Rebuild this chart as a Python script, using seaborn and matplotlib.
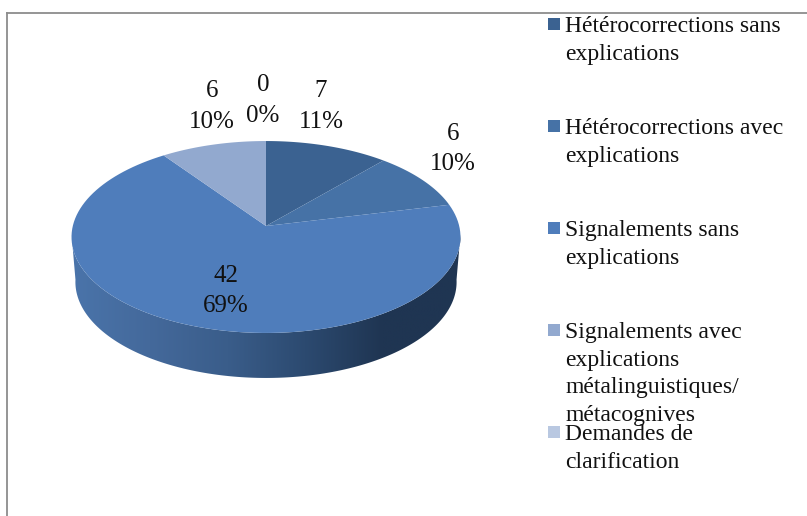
import numpy as np
import matplotlib
matplotlib.use("Agg")
import matplotlib.pyplot as plt
import seaborn as sns
from matplotlib.path import Path
from matplotlib.patches import PathPatch
from matplotlib.colors import LinearSegmentedColormap

# data
categories = ["Hétérocorrections sans\nexplications",
              "Hétérocorrections avec\nexplications",
              "Signalements sans\nexplications",
              "Signalements avec\nexplications\nmétalinguistiques/\nmétacognives",
              "Demandes de\nclarification"]
values = [7, 6, 42, 6, 0]
percents = ["11%", "10%", "69%", "10%", "0%"]
colors = ["#3b6291", "#4672a6", "#4f7dbb", "#92a9cf", "#b9c8e1"]
side_stops = ["#4a74aa", "#44699b", "#3a5d8a", "#2c4a70", "#1f3552", "#1f3552"]

# pie geometry in pixels
cx, cy = 266, 226
a, b, k = 193.2, 94.7, 0.1146
depth = 45


def project(theta):
    u, v = np.sin(theta), np.cos(theta)
    d = 1 + k * v
    return cx + a * u / d, cy - b * v / d


sns.set_theme(style="white", palette=sns.color_palette(colors))
plt.rcParams["font.family"] = ["Liberation Serif", "DejaVu Serif"]

fig = plt.figure(figsize=(8.07, 5.16), dpi=100)
ax = fig.add_axes([7 / 807, 0, 800 / 807, 503 / 516])
ax.set_xticks([])
ax.set_yticks([])
sns.despine(ax=ax, left=False, top=False, right=True, bottom=True)
for s in ["left", "top"]:
    ax.spines[s].set_color("#8c8c8c")
    ax.spines[s].set_linewidth(1.3)

# side of the disc, gradient clipped to the lower rim
t = np.linspace(np.pi / 2 - 0.05, 3 * np.pi / 2 + 0.05, 300)
rx, ry = project(t)
keep = ry >= 234
rx, ry = rx[keep], ry[keep]
low_x = cx + (rx[::-1] - cx) * 0.98
low_y = ry[::-1] + depth
verts = np.r_[np.c_[rx, ry], np.c_[low_x, low_y]]
side_path = Path(np.r_[verts, verts[:1]], closed=True)
cmap = LinearSegmentedColormap.from_list("side", side_stops)
img = ax.imshow(np.linspace(0, 1, 256)[None, :], cmap=cmap, aspect="auto",
                extent=[72, 461, 400, 220], zorder=1)
img.set_clip_path(PathPatch(side_path, transform=ax.transData))
ax.set_xlim(7, 807)
ax.set_ylim(516, 13)

# top face
edges = np.cumsum([0] + values) / sum(values) * 2 * np.pi
for i, val in enumerate(values):
    if val == 0:
        continue
    th = np.linspace(edges[i], edges[i + 1], 120)
    px, py = project(th)
    ax.fill(np.r_[cx, px], np.r_[cy, py], color=colors[i], lw=0, zorder=2)

# data labels, baseline of the count then the percent
label_pos = [(321, 97), (453, 140), (226, 282), (212, 97), (263, 91)]
for val, pct, (x, y) in zip(values, percents, label_pos):
    ax.text(x, y, str(val), ha="center", va="baseline", fontsize=18,
            color="#111111", zorder=3)
    ax.text(x, y + 30.5, pct, ha="center", va="baseline", fontsize=18,
            color="#111111", zorder=3)

# legend
for i, label in enumerate(categories):
    y0 = 24 + i * 102
    ax.scatter([554], [y0], marker="s", s=85, color=colors[i], lw=0, zorder=3)
    for j, line in enumerate(label.split("\n")):
        ax.text(565, y0 + 8 + j * 27.6, line, ha="left", va="baseline",
                fontsize=17, color="#111111", zorder=3)

fig.savefig("out.png", dpi=100)
